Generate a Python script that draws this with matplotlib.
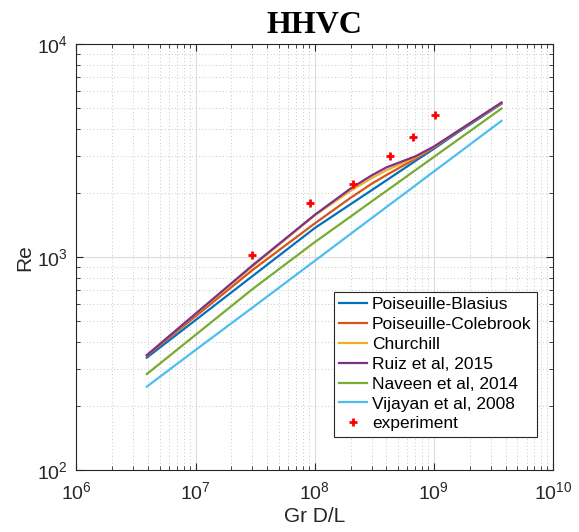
import numpy as np
import matplotlib
matplotlib.use("Agg")
import matplotlib.pyplot as plt

gr = [3.9e6, 1e7, 3e7, 1e8, 2e8, 3e8, 4e8, 7e8, 1e9, 1.5e9, 3.7e9]

re_blasius = [338, 507, 815, 1370, 1773, 2062, 2295, 2830, 3226, 3770, 5250]
re_colebrook = [345, 528, 870, 1440, 1900, 2210, 2430, 2900, 3270, 3810, 5290]
re_churchill = [347, 540, 905, 1570, 2050, 2350, 2560, 2940, 3290, 3820, 5300]
re_ruiz = [347, 543, 915, 1580, 2100, 2420, 2640, 2975, 3304, 3826, 5320]
re_naveen = [283, 432, 708, 1176, 1551, 1826, 2048, 2561, 2954, 3474, 4987]
re_vijayan = [247, 367, 580, 961, 1286, 1524, 1719, 2173, 2525, 2991, 4366]

# experimental points
gr_exp = [2.95e7, 9.2e7, 2.1e8, 4.25e8, 6.7e8, 1.03e9]
re_exp = [1025, 1790, 2200, 2970, 3680, 4660]

labels = ["Poiseuille-Blasius", "Poiseuille-Colebrook", "Churchill",
          "Ruiz et al, 2015", "Naveen et al, 2014", "Vijayan et al, 2008"]
colors = ["#0072BD", "#D95319", "#EDB120", "#7E2F8E", "#77AC30", "#4DBEEE"]
series = [re_blasius, re_colebrook, re_churchill, re_ruiz, re_naveen, re_vijayan]

plt.rcParams["font.family"] = ["Liberation Sans", "DejaVu Sans"]
plt.rcParams["mathtext.fontset"] = "custom"
plt.rcParams["mathtext.rm"] = "Liberation Sans"

fig = plt.figure(figsize=(5.79, 5.32), dpi=100)
ax = fig.add_axes([0.132, 0.116, 0.823, 0.801])

for y, lab, c in zip(series, labels, colors):
    ax.plot(gr, y, color=c, lw=1.6, label=lab)
ax.plot(gr_exp, re_exp, "+", color="red", ms=6, mew=2, label="experiment")

ax.set_xscale("log")
ax.set_yscale("log")
ax.set_xlim(1e6, 1e10)
ax.set_ylim(1e2, 1e4)

ax.grid(True, which="major", color="#dcdcdc", lw=0.8, ls="-")
ax.grid(True, which="minor", color="#c8c8c8", lw=0.7, ls=(0, (1, 2.5)))
ax.set_axisbelow(True)

edge = "#262626"
for s in ax.spines.values():
    s.set_color(edge)
    s.set_linewidth(0.8)
ax.tick_params(which="both", direction="in", top=True, right=True,
               colors=edge, labelsize=14)
ax.tick_params(which="major", length=5)
ax.tick_params(which="minor", length=3)
ax.tick_params(axis="x", which="major", pad=8)
ax.tick_params(axis="y", which="major", pad=6)

ax.set_xlabel("Gr D/L", fontsize=15, color=edge, labelpad=3)
ax.set_ylabel("Re", fontsize=15, color=edge, labelpad=2)
ax.set_title("HHVC", fontsize=23, fontweight="bold",
             family="Liberation Serif", pad=8)

leg = ax.legend(loc="lower right", bbox_to_anchor=(0.966, 0.079),
                fontsize=12.5, frameon=True, fancybox=False,
                edgecolor=edge, framealpha=1, handlelength=1.6,
                handletextpad=0.3, borderpad=0.3, labelspacing=0.27,
                borderaxespad=0)
leg.get_frame().set_linewidth(0.8)

fig.savefig("out.png", dpi=100)
